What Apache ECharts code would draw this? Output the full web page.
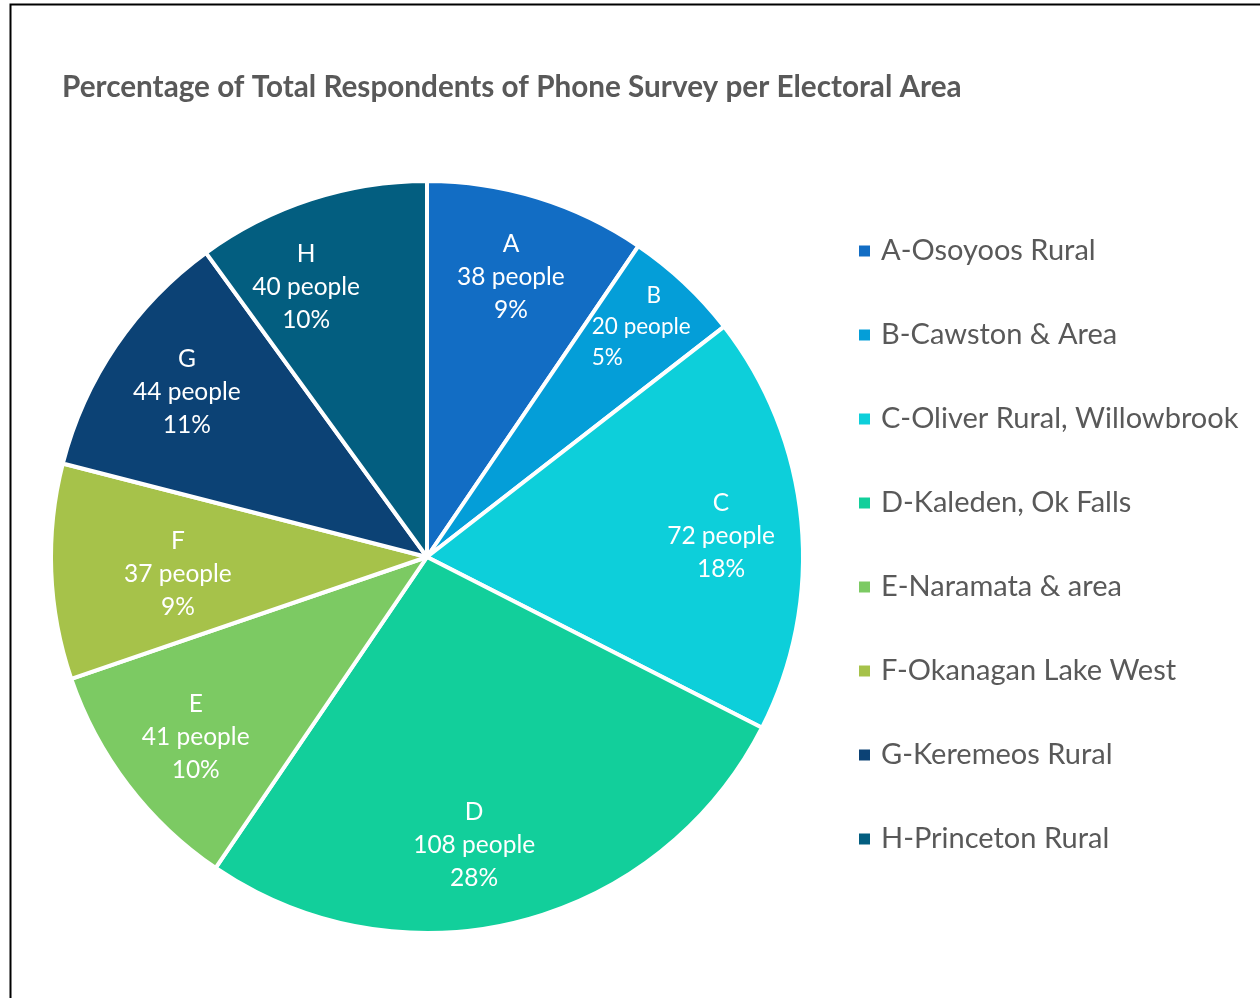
<!DOCTYPE html>
<html>
<head>
<meta charset="utf-8">
<script src="https://cdn.jsdelivr.net/npm/echarts@6/dist/echarts.min.js"></script>
<style>
  html, body { margin: 0; padding: 0; background: #fff; }
  #chart { width: 1260px; height: 998px; }
</style>
</head>
<body>
<div id="chart"></div>
<script>
// Electoral areas and phone-survey respondent counts
const areaCodes = ['A', 'B', 'C', 'D', 'E', 'F', 'G', 'H'];
const areaNames = [
  'A-Osoyoos Rural',
  'B-Cawston & Area',
  'C-Oliver Rural, Willowbrook',
  'D-Kaleden, Ok Falls',
  'E-Naramata & area',
  'F-Okanagan Lake West',
  'G-Keremeos Rural',
  'H-Princeton Rural'
];
const respondents = [38, 20, 72, 108, 41, 37, 44, 40];
const percentLabels = ['9%', '5%', '18%', '28%', '10%', '9%', '11%', '10%'];

const colors = ['#126DC4', '#049ED8', '#0DCFDA', '#12CF9B', '#7CCA63', '#A6C24A', '#0C4275', '#035E80'];

const CX = 427, CY = 557, R = 376;
// label placement per slice: share of the radius, and turn (degrees, clockwise) from the slice middle
const labelRadius = [0.777, 0.846, 0.784, 0.776, 0.779, 0.664, 0.775, 0.787];
const labelTurn = [-0.4, 0.5, 1.3, 5.1, -0.5, -1.6, 0.3, -6.1];

const chart = echarts.init(document.getElementById('chart'));

// the narrow B slice gets a smaller, wrapped label
function sliceLabel(p) {
  const i = p.dataIndex;
  if (i === 1) {
    return '{c|' + areaCodes[i] + '}\n{s|' + p.value + ' people}\n{w|' + percentLabels[i] + '}';
  }
  return areaCodes[i] + '\n' + p.value + ' people\n' + percentLabels[i];
}

chart.setOption({
  backgroundColor: '#ffffff',
  animation: false,
  color: colors,
  title: {
    text: 'Percentage of Total Respondents of Phone Survey per Electoral Area',
    left: 57,
    top: 67,
    textStyle: {
      fontFamily: 'Lato',
      fontWeight: 'bold',
      fontSize: 29.7,
      color: '#595959'
    }
  },
  graphic: [{
    type: 'rect',
    shape: { x: 10.5, y: 4.5, width: 1400, height: 1200 },
    style: { fill: 'none', stroke: '#000', lineWidth: 2 },
    silent: true
  }],
  legend: {
    orient: 'vertical',
    left: 857,
    top: 236,
    padding: 0,
    itemWidth: 13,
    itemHeight: 13,
    itemGap: 54,
    icon: 'rect',
    data: areaNames,
    textStyle: {
      fontFamily: 'Lato',
      fontSize: 29,
      lineHeight: 30,
      color: '#595959',
      padding: [0, 0, 0, 5]
    }
  },
  series: [{
    type: 'pie',
    center: [CX, CY],
    radius: [0, R],
    startAngle: 90,
    clockwise: true,
    itemStyle: { borderColor: '#ffffff', borderWidth: 4 },
    label: {
      show: true,
      position: 'inside',
      color: '#ffffff',
      fontFamily: 'Lato',
      fontSize: 24.5,
      lineHeight: 33,
      align: 'center',
      formatter: sliceLabel,
      rich: {
        c: { color: '#ffffff', fontFamily: 'Lato', fontSize: 22.5, lineHeight: 31, width: 96, align: 'center', padding: [0, 0, 0, 14] },
        s: { color: '#ffffff', fontFamily: 'Lato', fontSize: 22.5, lineHeight: 31, width: 96, align: 'left' },
        w: { color: '#ffffff', fontFamily: 'Lato', fontSize: 22.5, lineHeight: 31, width: 96, align: 'left' }
      }
    },
    labelLine: { show: false },
    labelLayout: function (p) {
      const i = p.dataIndex;
      const lx = p.labelRect.x + p.labelRect.width / 2;
      const ly = p.labelRect.y + p.labelRect.height / 2;
      // slice middle direction as laid out by the pie
      const mid = Math.atan2(lx - CX, CY - ly) + labelTurn[i] * Math.PI / 180;
      const r = labelRadius[i] * R;
      const tx = CX + Math.sin(mid) * r;
      const ty = CY - Math.cos(mid) * r;
      return { dx: tx - lx, dy: ty - ly };
    },
    emphasis: { disabled: true },
    data: areaNames.map((n, i) => ({ name: n, value: respondents[i] }))
  }]
});
</script>
</body>
</html>
